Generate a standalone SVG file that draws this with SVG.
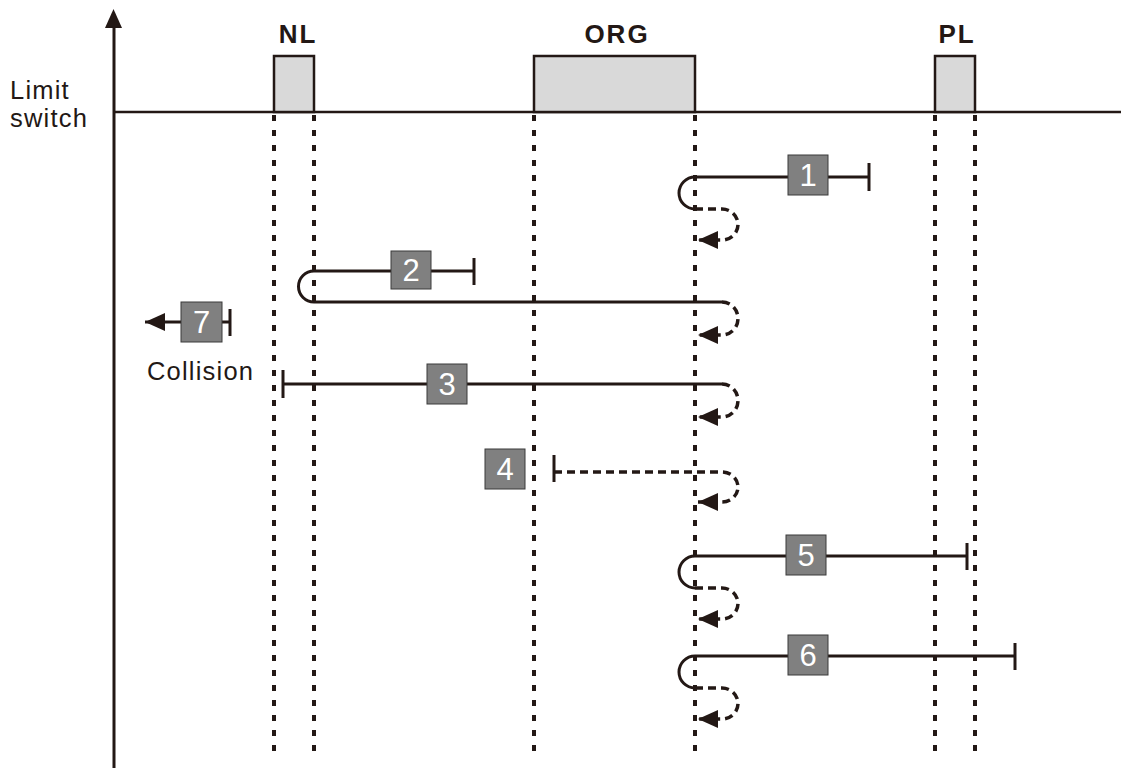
<svg xmlns="http://www.w3.org/2000/svg" width="1121" height="769" viewBox="0 0 1121 769">
<style>
.ln{fill:none;stroke:#231815;stroke-width:3}
.dl{fill:none;stroke:#231815;stroke-width:3.5;stroke-dasharray:8 5}
.vd{fill:none;stroke:#231815;stroke-width:4;stroke-dasharray:6 9}
.sw{fill:#d9d9d9;stroke:#231815;stroke-width:2.5}
.bx{fill:#808080;stroke:#3a3a3a;stroke-width:1}
.num{fill:#fff;font-family:"Liberation Sans",Arial,sans-serif;font-size:31px;text-anchor:middle}
.lbl{fill:#231815;font-family:"Liberation Sans",Arial,sans-serif;font-size:26px;font-weight:bold;text-anchor:middle;letter-spacing:2px}
.txt{fill:#231815;font-family:"Liberation Sans",Arial,sans-serif;font-size:25.5px;letter-spacing:1.2px}
</style>
<defs>
<marker id="ah" viewBox="0 0 20 18" refX="20" refY="9" markerWidth="20" markerHeight="18" markerUnits="userSpaceOnUse" orient="auto">
<path d="M0,0 L20,9 L0,18 z" fill="#231815"/>
</marker>
</defs>

<g id="axes">
<line x1="114" y1="768" x2="114" y2="24" class="ln"/>
<path d="M105,28 L113.5,9 L122,28 z" fill="#231815"/>
<line x1="114" y1="112" x2="1121" y2="112" class="ln" style="stroke-width:2.5"/>
<text class="txt" x="10" y="99">Limit</text>
<text class="txt" x="10" y="127">switch</text>
</g>

<g id="NL">
<rect class="sw" x="274" y="56" width="40" height="56"/>
<text class="lbl" x="298" y="43">NL</text>
</g>
<g id="ORG">
<rect class="sw" x="534" y="56" width="161" height="56"/>
<text class="lbl" x="617" y="43">ORG</text>
</g>
<g id="PL">
<rect class="sw" x="935" y="56" width="40" height="56"/>
<text class="lbl" x="957" y="43">PL</text>
</g>

<g id="guides">
<line class="vd" x1="274" y1="115" x2="274" y2="752"/>
<line class="vd" x1="314" y1="115" x2="314" y2="752"/>
<line class="vd" x1="534" y1="115" x2="534" y2="752"/>
<line class="vd" x1="695" y1="115" x2="695" y2="752"/>
<line class="vd" x1="935" y1="115" x2="935" y2="752"/>
<line class="vd" x1="975" y1="115" x2="975" y2="752"/>
</g>

<g id="connectors">
<!-- 1 -->
<path class="ln" d="M869,177 H695 A16,16 0 0 0 695,209"/>
<line class="ln" x1="869" y1="163" x2="869" y2="191"/>
<path class="dl" d="M695,209 H722 A16,15.5 0 0 1 722,240 H698" marker-end="url(#ah)"/>
<!-- 2 -->
<path class="ln" d="M474,271 H314 A15.5,15.5 0 0 0 314,302 H722"/>
<line class="ln" x1="474" y1="258" x2="474" y2="285"/>
<path class="dl" d="M722,302 A16,16.5 0 0 1 722,335 H698" marker-end="url(#ah)"/>
<!-- 7 -->
<path class="ln" d="M230,322 H145" marker-end="url(#ah)"/>
<line class="ln" x1="230" y1="309" x2="230" y2="336"/>
<!-- 3 -->
<path class="ln" d="M283,384 H722"/>
<line class="ln" x1="283" y1="370" x2="283" y2="398"/>
<path class="dl" d="M722,384 A16,16.5 0 0 1 722,417 H698" marker-end="url(#ah)"/>
<!-- 4 -->
<path class="dl" d="M554,472 H722 A16,15 0 0 1 722,502 H698" marker-end="url(#ah)"/>
<line class="ln" x1="554" y1="455" x2="554" y2="482"/>
<!-- 5 -->
<path class="ln" d="M967,556 H695 A16,16 0 0 0 695,588"/>
<line class="ln" x1="967" y1="543" x2="967" y2="570"/>
<path class="dl" d="M695,588 H722 A16,15.5 0 0 1 722,619 H698" marker-end="url(#ah)"/>
<!-- 6 -->
<path class="ln" d="M1015,656 H695 A16,16 0 0 0 695,688"/>
<line class="ln" x1="1015" y1="643" x2="1015" y2="670"/>
<path class="dl" d="M695,688 H722 A16,15.5 0 0 1 722,719 H698" marker-end="url(#ah)"/>
</g>

<g id="step1"><rect class="bx" x="788" y="155" width="40" height="40"/><text class="num" x="808" y="186">1</text></g>
<g id="step2"><rect class="bx" x="391" y="251" width="40" height="38"/><text class="num" x="411" y="281">2</text></g>
<g id="step3"><rect class="bx" x="427" y="364" width="40" height="40"/><text class="num" x="447" y="395">3</text></g>
<g id="step4"><rect class="bx" x="485" y="449" width="40" height="40"/><text class="num" x="505" y="480">4</text></g>
<g id="step5"><rect class="bx" x="786" y="535" width="40" height="40"/><text class="num" x="806" y="566">5</text></g>
<g id="step6"><rect class="bx" x="788" y="635" width="40" height="40"/><text class="num" x="808" y="666">6</text></g>
<g id="step7"><rect class="bx" x="181" y="302" width="41" height="40"/><text class="num" x="201.5" y="333">7</text></g>
<g id="collision"><text class="txt" x="147" y="380">Collision</text></g>
</svg>
